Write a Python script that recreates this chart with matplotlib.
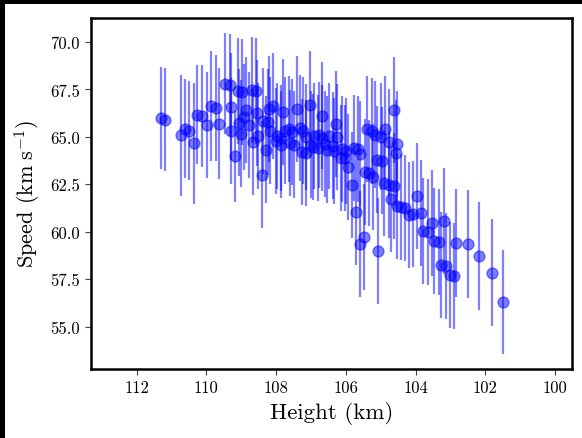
import matplotlib
matplotlib.use("Agg")
import matplotlib.pyplot as plt
from matplotlib.patches import Rectangle

plt.rcParams['font.family'] = 'serif'
plt.rcParams['font.serif'] = ['cmr10']
plt.rcParams['mathtext.fontset'] = 'cm'
plt.rcParams['axes.formatter.use_mathtext'] = True

height = [111.31, 111.18, 110.72, 110.62, 110.49, 110.35, 110.26, 110.13, 109.98, 109.88,
          109.73, 109.65, 109.46, 109.33, 109.30, 109.28, 109.18, 109.10, 108.97, 108.87,
          108.93, 109.07, 109.00, 108.78, 108.70, 108.58, 108.56, 108.37, 108.23, 108.18,
          108.53, 108.66, 108.30, 108.41, 108.20, 108.09, 107.97, 107.87, 107.99, 107.85,
          107.79, 107.74, 107.63, 107.53, 107.60, 107.49, 107.40, 107.32, 107.22, 107.13,
          107.26, 107.13, 107.03, 107.01, 106.92, 106.77, 106.68, 106.81, 106.94, 106.67,
          106.60, 106.48, 106.36, 106.54, 106.34, 106.29, 106.25, 106.12, 106.00, 106.15,
          106.03, 105.93, 105.81, 105.77, 105.65, 105.58, 105.71, 105.58, 105.48, 105.45,
          105.33, 105.23, 105.38, 105.26, 105.16, 105.10, 104.95, 104.98, 104.87, 104.76,
          104.61, 104.53, 104.55, 104.91, 104.76, 104.61, 104.69, 105.07, 104.53, 104.42,
          104.29, 104.19, 104.07, 103.96, 103.84, 103.78, 103.64, 103.54, 103.48, 103.33,
          103.19, 103.26, 103.13, 103.02, 102.90, 102.85, 102.48, 102.17, 101.80, 101.49]

speed = [65.98, 65.91, 65.08, 65.43, 65.33, 64.66, 66.17, 66.09, 65.61, 66.61,
         66.52, 65.70, 67.80, 67.73, 66.59, 65.31, 63.98, 67.42, 67.37, 66.42,
         66.05, 65.75, 65.17, 65.64, 67.47, 67.40, 66.24, 65.85, 65.77, 65.33,
         65.06, 64.72, 64.33, 63.01, 66.47, 66.61, 65.03, 64.94, 64.77, 64.59,
         66.30, 65.33, 65.42, 65.24, 64.68, 64.59, 66.47, 65.45, 65.33, 64.98,
         64.20, 64.15, 66.70, 64.59, 65.06, 65.10, 64.94, 64.42, 64.45, 66.12,
         64.63, 65.06, 64.54, 64.33, 64.24, 65.68, 64.98, 64.36, 64.24, 63.87,
         63.87, 63.40, 62.48, 64.40, 64.36, 64.10, 61.03, 59.36, 59.71, 63.13,
         63.08, 62.89, 65.42, 65.30, 65.12, 63.80, 63.75, 65.01, 65.42, 64.72,
         66.42, 64.63, 64.15, 62.57, 62.48, 62.40, 61.73, 58.99, 61.34, 61.29,
         61.25, 60.90, 60.94, 61.90, 60.99, 60.04, 59.97, 60.46, 59.50, 59.45,
         60.55, 58.25, 58.20, 57.72, 57.67, 59.39, 59.36, 58.74, 57.85, 56.29]

speed_err = [2.7, 2.7, 3.2, 2.6, 2.6, 3.2, 2.6, 2.7, 2.8, 2.9,
             2.8, 2.9, 2.65, 2.7, 2.8, 2.8, 2.4, 2.8, 2.8, 2.8,
             2.8, 2.8, 2.8, 2.8, 2.8, 2.8, 2.8, 2.8, 2.8, 2.8,
             2.8, 2.8, 2.8, 2.8, 2.8, 2.8, 2.8, 2.8, 2.8, 2.8,
             2.8, 2.8, 2.8, 2.8, 2.8, 2.8, 2.8, 2.8, 2.8, 2.8,
             2.8, 2.8, 2.8, 2.8, 2.8, 2.8, 2.8, 2.8, 2.8, 2.8,
             2.8, 2.8, 2.8, 2.8, 2.8, 2.8, 2.8, 2.8, 2.8, 2.8,
             2.8, 2.8, 2.8, 2.8, 2.8, 2.8, 2.8, 2.8, 2.8, 2.8,
             2.8, 2.8, 2.8, 2.8, 2.8, 2.8, 2.8, 2.8, 2.8, 2.8,
             2.8, 2.8, 2.8, 2.8, 2.8, 2.8, 2.8, 2.8, 2.8, 2.8,
             2.8, 2.8, 2.8, 2.8, 2.8, 2.8, 2.8, 2.8, 2.8, 2.8,
             2.8, 2.8, 2.8, 2.8, 2.8, 2.85, 2.85, 2.85, 2.8, 2.75]

x_ticks = [112, 110, 108, 106, 104, 102, 100]
y_ticks = [55.0, 57.5, 60.0, 62.5, 65.0, 67.5, 70.0]

W, H = 582, 439
fig = plt.figure(figsize=(W / 100, H / 100), dpi=100)
fig.patch.set_facecolor('black')
fig.patches.append(Rectangle((5 / W, 0), 1 - 5 / W, 1 - 5 / H, transform=fig.transFigure,
                             facecolor='white', edgecolor='none', zorder=-10))

ax = fig.add_axes([91 / W, 1 - 370 / H, (572 - 91) / W, (370 - 19) / H])
ax.errorbar(height, speed, yerr=speed_err, fmt='o', color='blue', ecolor='blue',
            alpha=0.5, markersize=7.8, elinewidth=1.6, capsize=0)

ax.set_xlim(113.31, 99.51)
ax.set_ylim(52.77, 71.26)
ax.set_xticks(x_ticks)
ax.set_yticks(y_ticks)
ax.set_xticklabels([str(t) for t in x_ticks])
ax.set_yticklabels([f"{t:.1f}" for t in y_ticks])
ax.tick_params(labelsize=12, length=4, width=0.8, color='#444444', pad=4)
for s in ax.spines.values():
    s.set_linewidth(1.8)

ax.set_xlabel('Height (km)', fontsize=16.5, labelpad=4)
ax.set_ylabel(r'Speed ($\mathrm{km\;s^{-1}}$)', fontsize=16, labelpad=5)

fig.savefig('out.png', dpi=100, facecolor=fig.get_facecolor())
